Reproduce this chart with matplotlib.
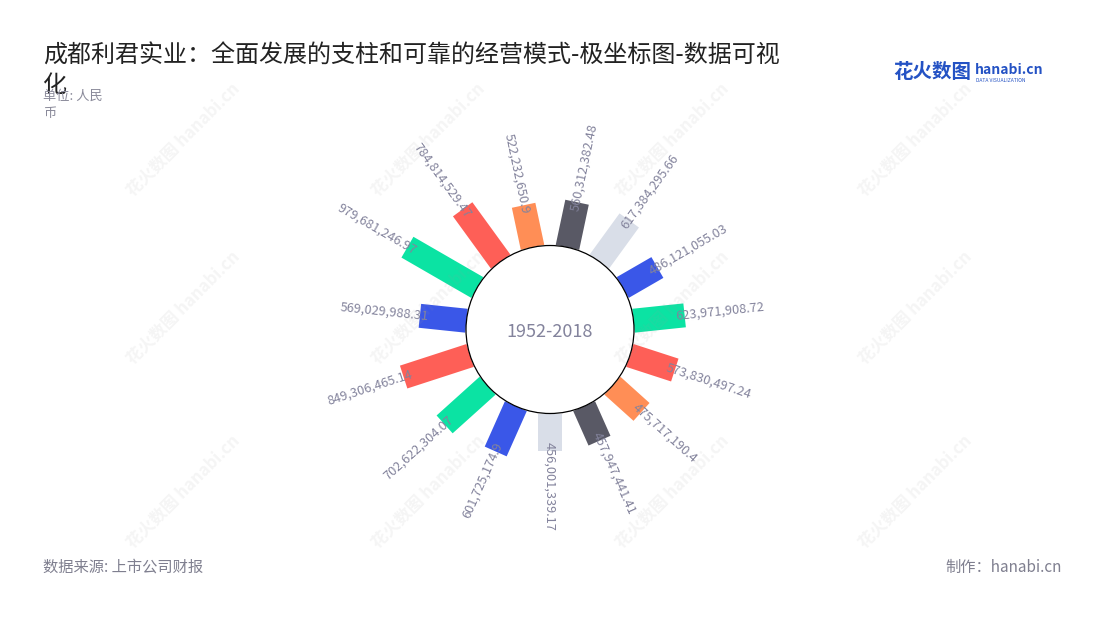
import matplotlib
matplotlib.use("Agg")
import matplotlib.pyplot as plt
from matplotlib.patches import Rectangle, Circle
import numpy as np

plt.rcParams['font.family'] = ['Noto Sans CJK SC', 'DejaVu Sans']

# values in yuan, clockwise from the top
VALUES = [560312382.48, 617384295.66, 486121055.03, 623971908.72, 573830497.24,
          475717190.4, 457947441.41, 456001339.17, 601725174.9, 702622304.07,
          849306465.14, 569029988.31, 979681246.97, 784814529.47, 522232650.9]
COLORS = ["#595965", "#d9dee8", "#3a57e8", "#0be3a3", "#fe5f57",
          "#ff8e56", "#595965", "#d9dee8", "#3a57e8", "#0be3a3",
          "#fe5f57", "#3a57e8", "#0be3a3", "#fe5f57", "#ff8e56"]
CENTER_TEXT = "1952-2018"
TITLE = "成都利君实业：全面发展的支柱和可靠的经营模式-极坐标图-数据可视"
TITLE2 = "化"

W, H = 1100, 620
PX = 8.23           # pixels per 1e8 yuan
CX, CY = 550, 329.5  # centre of the ring, pixels from top-left
R0 = 84 / PX        # hole radius
BW = 24 / PX        # bar width
LABEL_C = "#83839c"


def fmt(v):
    return f"{v:,.2f}".rstrip("0").rstrip(".")


fig = plt.figure(figsize=(W / 100, H / 100), dpi=100)
ax = fig.add_axes([0, 0, 1, 1])
ax.set_xlim(-CX / PX, (W - CX) / PX)
ax.set_ylim(-(H - CY) / PX, CY / PX)
ax.axis("off")

n = len(VALUES)
step = 360.0 / n
for i, (v, c) in enumerate(zip(VALUES, COLORS)):
    deg = 90 - step / 2 - step * i
    a = np.radians(deg)
    u = np.array([np.cos(a), np.sin(a)])
    nv = np.array([-np.sin(a), np.cos(a)])
    length = v / 1e8
    corner = R0 * u - BW / 2 * nv
    ax.add_patch(Rectangle(corner, length, BW, angle=deg, rotation_point="xy",
                           facecolor=c, edgecolor="none", zorder=2))
    rl = R0 + length - 9 / PX
    x, y = rl * u
    d = (deg + 180) % 360 - 180
    if -90 - 1e-6 <= d <= 90:
        rot, ha = d, "left"
    else:
        rot, ha = d + 180, "right"
    ax.text(x, y, fmt(v), rotation=rot, rotation_mode="anchor", ha=ha, va="center",
            fontsize=9.2, color=LABEL_C, zorder=5)

ax.add_patch(Circle((0, 0), R0, facecolor="white", edgecolor="black", linewidth=0.9, zorder=3))
ax.text(0, -0.3, CENTER_TEXT, ha="center", va="center", fontsize=13, color=LABEL_C, zorder=4)

# watermarks
for wy in (140, 308, 492):
    for wx in (183, 428, 672, 915):
        fig.text(wx / W, 1 - wy / H, "花火数图 hanabi.cn", rotation=45, ha="center", va="center",
                 fontsize=12, fontweight="bold", color="#9a9a9a", alpha=0.1, zorder=10)

fig.text(43 / W, 1 - 56 / H, TITLE, ha="left", va="center", fontsize=17.3, color="#222222")
fig.text(43 / W, 1 - 85 / H, TITLE2, ha="left", va="center", fontsize=17.3, color="#222222")
fig.text(43 / W, 1 - 96 / H, "单位: 人民", ha="left", va="center", fontsize=9.5, color="#8a8a9a")
fig.text(43 / W, 1 - 113 / H, "币", ha="left", va="center", fontsize=9.5, color="#8a8a9a")

fig.text(893 / W, 1 - 73 / H, "花火数图", ha="left", va="center", fontsize=14,
         fontweight="bold", color="#2452c4")
fig.text(975 / W, 1 - 70 / H, "hanabi.cn", ha="left", va="center", fontsize=10,
         fontweight="bold", color="#2452c4")
fig.text(976 / W, 1 - 80 / H, "DATA VISUALIZATION", ha="left", va="center", fontsize=3.6,
         color="#2452c4")

fig.text(43 / W, 1 - 567 / H, "数据来源: 上市公司财报", ha="left", va="center", fontsize=11, color="#7f7f8f")
fig.text(1062 / W, 1 - 567 / H, "制作：hanabi.cn", ha="right", va="center", fontsize=11, color="#7f7f8f")

fig.savefig("out.png", dpi=100)
